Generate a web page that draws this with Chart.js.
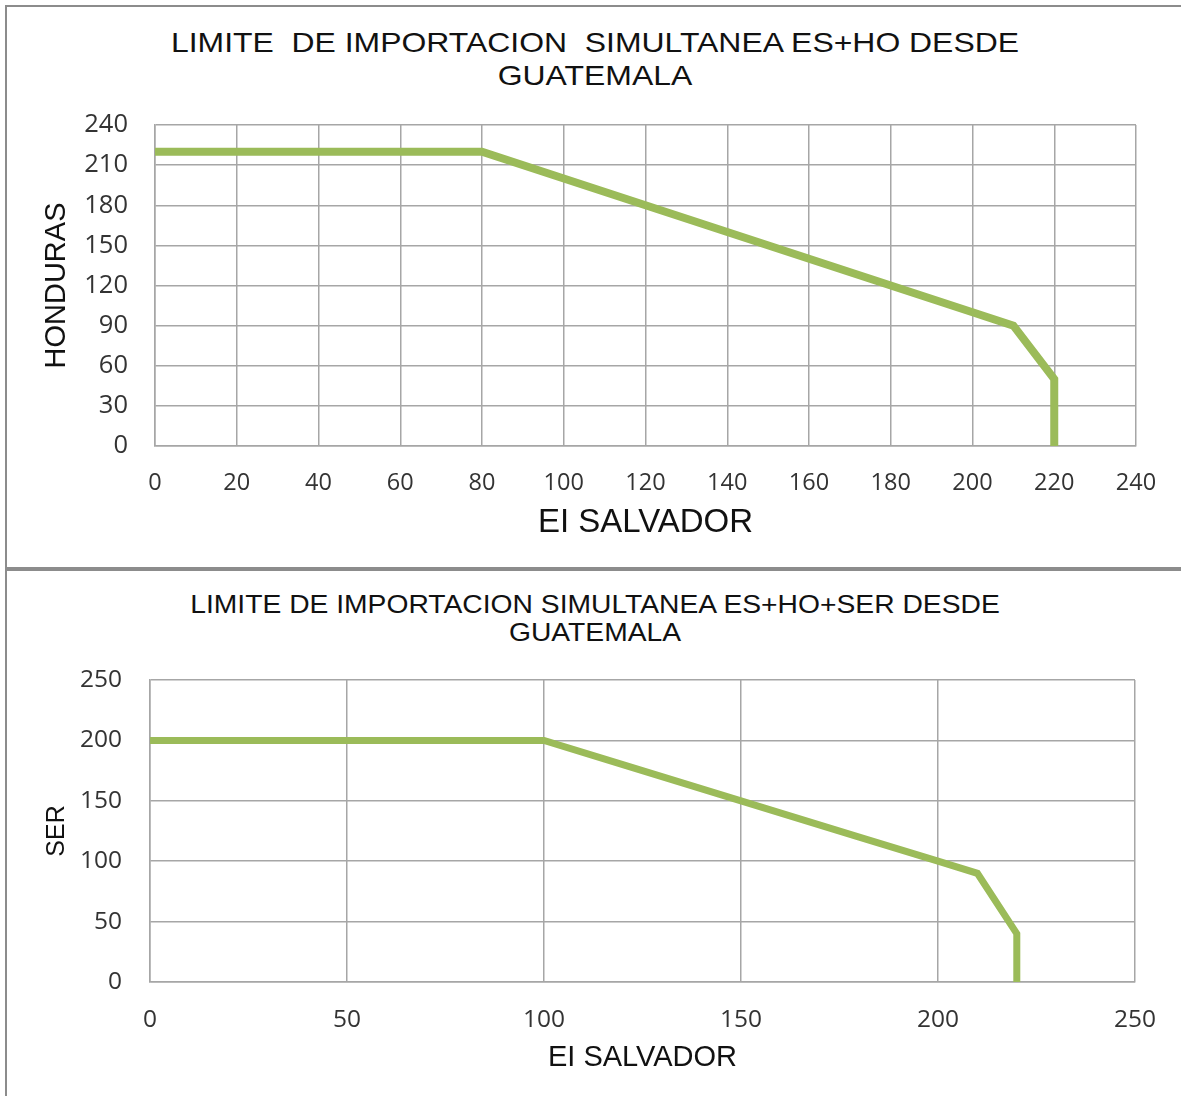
<!DOCTYPE html>
<html>
<head>
<meta charset="utf-8">
<script src="https://cdn.jsdelivr.net/npm/chart.js@4.4.1/dist/chart.umd.min.js"></script>
<style>
  body { margin: 0; background: #fff; width: 1181px; height: 1096px; overflow: hidden; position: relative; }
  .frame { position: absolute; left: 5px; border-left: 2px solid #8c8c8c; border-top: 2px solid #8c8c8c; }
  #frame1 { top: 5px; width: 1176px; height: 562px; }
  #frame2 { top: 567px; width: 1176px; height: 529px; border-top: 4px solid #8c8c8c; }
  .title { position: absolute; left: 0; width: 1190px; text-align: center; font-family: "Liberation Sans", Arial, sans-serif; color: #111; transform-origin: 595px 0; }
  #t1 { top: 26px; font-size: 28px; line-height: 33px; transform: scaleX(1.14); }
  #t2 { top: 590px; font-size: 25px; line-height: 28px; transform: scaleX(1.13); }
  canvas { position: absolute; }
  #c1 { left: 8px; top: 8px; }
  #c2 { left: 8px; top: 571px; }
</style>
</head>
<body>
<div class="frame" id="frame1"></div>
<div class="frame" id="frame2"></div>
<div class="title" id="t1">LIMITE&nbsp; DE IMPORTACION&nbsp; SIMULTANEA ES+HO DESDE<br>GUATEMALA</div>
<div class="title" id="t2">LIMITE DE IMPORTACION SIMULTANEA ES+HO+SER DESDE<br>GUATEMALA</div>
<canvas id="c1"></canvas>
<canvas id="c2"></canvas>
<script>
// top chart: El Salvador vs Honduras
const esTop = [0, 80, 100, 120, 140, 160, 180, 200, 210, 220, 220];
const hoTop = [220, 220, 200, 180, 160, 140, 120, 100, 90, 50, 0];
// bottom chart: El Salvador vs SER
const esBottom = [0, 100, 120, 150, 180, 200, 210, 220, 220];
const serBottom = [200, 200, 180, 150, 120, 100, 90, 40, 0];

const gridColor = '#a6a6a6';
const tickColor = '#333';
const lineColor = '#9bbb59';
const tickFont = "'Open Sans', sans-serif";
const labelFont = "'Liberation Sans', Arial, sans-serif";

function toPoints(xs, ys) {
    return xs.map((x, i) => ({ x: x, y: ys[i] }));
}

function makeChart(id, cfg) {
    const canvas = document.getElementById(id);
    canvas.style.width = cfg.w + 'px';
    canvas.style.height = cfg.h + 'px';
    canvas.width = cfg.w;
    canvas.height = cfg.h;
    return new Chart(canvas, {
        type: 'scatter',
        data: {
            datasets: [{
                data: toPoints(cfg.xs, cfg.ys),
                showLine: true,
                borderColor: lineColor,
                borderWidth: cfg.lineWidth,
                pointRadius: 0,
                fill: false,
                tension: 0
            }]
        },
        options: {
            responsive: false,
            animation: false,
            devicePixelRatio: 1,
            layout: { padding: { top: cfg.top, right: cfg.right, left: 0, bottom: 0 } },
            plugins: { legend: { display: false }, tooltip: { enabled: false } },
            scales: {
                x: {
                    type: 'linear', min: 0, max: cfg.xMax,
                    afterFit: s => {
                        s.height = cfg.xAxisH;
                        // plot edges come from layout padding only
                        s.paddingLeft = 0;
                        s.paddingRight = 0;
                    },
                    grid: { color: gridColor, lineWidth: 1.5, drawTicks: false },
                    border: { color: gridColor, width: 1.5 },
                    ticks: { stepSize: cfg.xStep, color: tickColor, padding: cfg.xTickPad, maxRotation: 0,
                             font: { family: tickFont, size: cfg.xTickSize } },
                    title: { display: true, text: 'EI SALVADOR', color: '#111',
                             font: { family: labelFont, size: cfg.xTitleSize },
                             padding: { top: 0, bottom: cfg.xTitlePad } }
                },
                y: {
                    type: 'linear', min: 0, max: cfg.yMax,
                    afterFit: s => { s.width = cfg.yAxisW; },
                    grid: { color: gridColor, lineWidth: 1.5, drawTicks: false },
                    border: { color: gridColor, width: 1.5 },
                    ticks: { stepSize: cfg.yStep, color: tickColor, padding: cfg.yTickPad,
                             font: { family: tickFont, size: cfg.yTickSize } },
                    title: { display: true, text: cfg.yTitle, color: '#111',
                             font: { family: labelFont, size: cfg.yTitleSize },
                             padding: { top: cfg.yTitlePad, bottom: 0 } }
                }
            }
        }
    });
}

makeChart('c1', {
    w: 1168, h: 560, top: 117, right: 40, yAxisW: 147, xAxisH: 122,
    xs: esTop, ys: hoTop, xMax: 240, xStep: 20, yMax: 240, yStep: 30,
    lineWidth: 8, xTickSize: 23.5, yTickSize: 25.5, xTickPad: 23, yTickPad: 27,
    yTitle: 'HONDURAS', yTitleSize: 29, yTitlePad: 32,
    xTitleSize: 33, xTitlePad: 25
});

makeChart('c2', {
    w: 1168, h: 525, top: 109, right: 41, yAxisW: 142, xAxisH: 114,
    xs: esBottom, ys: serBottom, xMax: 250, xStep: 50, yMax: 250, yStep: 50,
    lineWidth: 7, xTickSize: 24.5, yTickSize: 24.5, xTickPad: 23, yTickPad: 28,
    yTitle: 'SER', yTitleSize: 25, yTitlePad: 34,
    xTitleSize: 29, xTitlePad: 21
});
</script>
</body>
</html>
